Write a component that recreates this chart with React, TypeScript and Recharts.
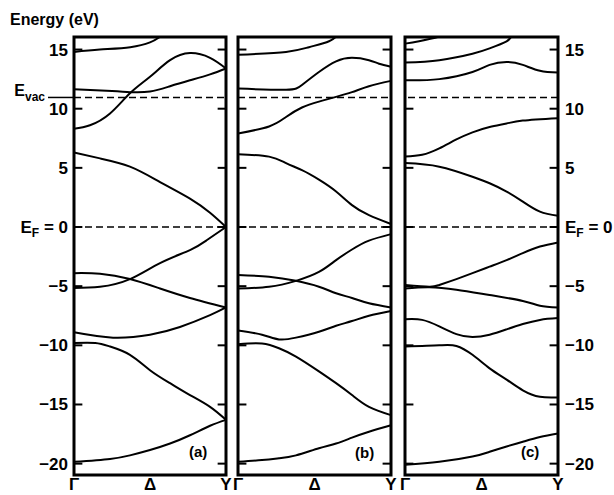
import { LineChart, Line, XAxis, YAxis, ReferenceLine, ReferenceArea } from "recharts";

// energy window of the plot (eV)
const YMIN = -20.96;
const YMAX = 16.06;
const EVAC = 10.95;

const energyTicks = [-20, -15, -10, -5, 0, 5, 10, 15];
const kTicks = [0, 0.5, 1];
const kLabels = ["Γ", "Δ", "Y"];

type Band = [number, number][];

// (a) bands, [k, E] with k from Γ (0) to Y (1)
const bandsA: Band[] = [
  [[0, 14.8], [0.17, 15.0], [0.37, 15.2], [0.5, 15.6], [0.57, 16.1], [0.65, 16.8]],
  [[0, 8.3], [0.105, 8.6], [0.237, 9.6], [0.368, 11.3], [0.5, 12.7], [0.632, 14.1], [0.763, 14.7], [0.895, 14.3], [1, 13.4]],
  [[0, 11.65], [0.25, 11.5], [0.37, 11.4], [0.5, 11.45], [0.632, 11.9], [0.763, 12.4], [0.895, 12.9], [1, 13.4]],
  [[0, 6.3], [0.171, 5.8], [0.368, 5.1], [0.566, 3.8], [0.763, 2.4], [0.895, 1.2], [1, 0]],
  [[0, -5.15], [0.171, -5.05], [0.368, -4.4], [0.566, -3.05], [0.763, -1.95], [0.875, -1.1], [1, 0]],
  [[0, -3.9], [0.171, -3.95], [0.368, -4.4], [0.566, -5.2], [0.763, -6.0], [1, -6.8]],
  [[0, -8.9], [0.257, -9.35], [0.5, -9.1], [0.697, -8.45], [0.895, -7.45], [1, -6.8]],
  [[0, -9.8], [0.14, -9.8], [0.237, -10.1], [0.368, -10.8], [0.5, -12.1], [0.632, -13.2], [0.763, -14.2], [0.895, -15.2], [1, -16.3]],
  [[0, -19.85], [0.237, -19.6], [0.368, -19.3], [0.5, -18.85], [0.632, -18.3], [0.763, -17.6], [0.895, -16.8], [1, -16.3]],
];

// (b)
const bandsB: Band[] = [
  [[0, 14.55], [0.314, 14.8], [0.464, 15.2], [0.595, 15.7], [0.66, 16.3], [0.75, 17]],
  [[0, 11.7], [0.314, 11.6], [0.418, 12.0], [0.529, 13.1], [0.641, 14.0], [0.745, 14.3], [0.856, 14.1], [0.922, 13.8], [1, 13.55]],
  [[0, 7.9], [0.203, 8.5], [0.314, 9.3], [0.418, 10.1], [0.529, 10.6], [0.641, 11.0], [0.745, 11.4], [0.856, 11.9], [1, 12.35]],
  [[0, 6.15], [0.203, 5.95], [0.314, 5.4], [0.418, 4.8], [0.529, 4.0], [0.641, 3.0], [0.745, 1.85], [0.856, 1.0], [1, 0.25]],
  [[0, -5.2], [0.203, -5.05], [0.379, -4.55], [0.529, -3.8], [0.641, -2.8], [0.745, -1.9], [0.856, -1.15], [1, -0.6]],
  [[0, -4.05], [0.203, -4.2], [0.379, -4.55], [0.529, -5.05], [0.641, -5.6], [0.745, -6.0], [0.856, -6.45], [1, -6.8]],
  [[0, -8.75], [0.157, -9.1], [0.268, -9.5], [0.379, -9.35], [0.529, -8.85], [0.641, -8.35], [0.745, -7.95], [0.856, -7.5], [1, -7.1]],
  [[0, -9.9], [0.157, -9.85], [0.268, -10.25], [0.379, -10.95], [0.529, -12.2], [0.641, -13.2], [0.745, -14.2], [0.856, -15.2], [1, -15.9]],
  [[0, -19.85], [0.157, -19.7], [0.268, -19.55], [0.379, -19.3], [0.529, -18.7], [0.641, -18.3], [0.745, -17.8], [0.856, -17.3], [1, -16.75]],
];

// (c)
const bandsC: Band[] = [
  [[0, 15.5], [0.092, 15.7], [0.224, 16.1], [0.3, 16.5]],
  [[0, 13.9], [0.224, 14.1], [0.441, 14.65], [0.553, 15.1], [0.664, 15.7], [0.697, 16.1], [0.78, 16.8]],
  [[0, 12.4], [0.224, 12.5], [0.441, 13.1], [0.553, 13.7], [0.664, 13.95], [0.77, 13.7], [0.882, 13.2], [1, 13.05]],
  [[0, 5.95], [0.112, 6.1], [0.224, 6.65], [0.336, 7.4], [0.441, 8.0], [0.553, 8.45], [0.664, 8.75], [0.77, 9.0], [1, 9.2]],
  [[0, 5.4], [0.224, 5.1], [0.441, 4.25], [0.553, 3.7], [0.664, 3.0], [0.77, 2.15], [0.882, 1.3], [1, 0.95]],
  [[0, -4.9], [0.158, -5.05], [0.224, -4.9], [0.336, -4.4], [0.441, -3.9], [0.553, -3.35], [0.664, -2.8], [0.77, -2.2], [0.882, -1.65], [1, -1.3]],
  [[0, -5.2], [0.158, -5.1], [0.336, -5.3], [0.553, -5.75], [0.77, -6.25], [0.882, -6.65], [1, -6.8]],
  [[0, -7.8], [0.112, -7.85], [0.224, -8.4], [0.336, -9.05], [0.441, -9.3], [0.553, -9.1], [0.664, -8.65], [0.77, -8.2], [0.882, -7.85], [1, -7.7]],
  [[0, -10.1], [0.224, -10.0], [0.336, -10.05], [0.441, -10.8], [0.553, -11.95], [0.664, -12.9], [0.77, -13.8], [0.882, -14.35], [1, -14.4]],
  [[0, -20.1], [0.224, -19.85], [0.441, -19.4], [0.553, -19.0], [0.664, -18.55], [0.77, -18.15], [0.882, -17.75], [1, -17.45]],
];

const FONT = "'Liberation Sans', Arial, sans-serif";
const TICK = 0.055;

const fmt = (v: number) => (v < 0 ? "\u2212" + Math.abs(v) : String(v));

const EnergyLabel = ({ x, y, v, anchor }: { x: number; y: number; v: number; anchor: "start" | "end" }) => {
  if (v === 0) {
    return (
      <text x={x} y={y + 6} textAnchor={anchor} fontSize={17} fontWeight={700} fontFamily={FONT} fill="#000">
        E<tspan fontSize={12} dy={4}>F</tspan>
        <tspan dy={-4}> = 0</tspan>
      </text>
    );
  }
  return (
    <text x={x} y={y + 6} textAnchor={anchor} fontSize={17} fontWeight={700} fontFamily={FONT} fill="#000">
      {fmt(v)}
    </text>
  );
};

const LeftTick = (props: any) => {
  const { x, y, payload } = props;
  const v = payload.value;
  if (v === EVAC) {
    return (
      <g>
        <text x={x - 23} y={y - 1} textAnchor="end" fontSize={16} fontWeight={700} fontFamily={FONT} fill="#000">
          E<tspan fontSize={12} dy={5}>vac</tspan>
        </text>
        <line x1={x - 20} x2={x + 6} y1={y} y2={y} stroke="#000" strokeWidth={1.5} />
      </g>
    );
  }
  return <EnergyLabel x={x} y={y} v={v} anchor="end" />;
};

const RightTick = (props: any) => {
  const { x, y, payload } = props;
  return <EnergyLabel x={x} y={y} v={payload.value} anchor="start" />;
};

const Panel = ({
  bands,
  side,
  width,
  margin,
}: {
  bands: Band[];
  side: "left" | "right" | "none";
  width: number;
  margin: { top: number; right: number; left: number; bottom: number };
}) => (
  <LineChart width={width} height={460} margin={margin}>
    <XAxis
      type="number"
      dataKey="k"
      domain={[0, 1]}
      ticks={kTicks}
      interval={0}
      tickFormatter={(v: number) => kLabels[kTicks.indexOf(v)]}
      axisLine={false}
      tickLine={false}
      tickSize={0}
      tickMargin={3}
      height={20}
      tick={{ fill: "#000", fontSize: 17, fontWeight: 700, fontFamily: FONT }}
    />
    <YAxis
      type="number"
      domain={[YMIN, YMAX]}
      allowDataOverflow
      hide={side === "none"}
      orientation={side === "right" ? "right" : "left"}
      width={side === "left" ? 74 : side === "right" ? 56 : 0}
      ticks={side === "left" ? [...energyTicks, EVAC] : energyTicks}
      interval={0}
      axisLine={false}
      tickLine={false}
      tickSize={0}
      tickMargin={side === "left" ? 6 : 7}
      tick={side === "left" ? LeftTick : RightTick}
    />
    <ReferenceLine y={0} stroke="#000" strokeWidth={1.5} strokeDasharray="7 4" />
    <ReferenceLine y={EVAC} stroke="#000" strokeWidth={1.5} strokeDasharray="7 4" />
    {energyTicks.map((v) => (
      <ReferenceLine
        key={"l" + v}
        segment={[{ x: 0, y: v }, { x: TICK, y: v }]}
        stroke="#000"
        strokeWidth={2}
      />
    ))}
    {energyTicks.map((v) => (
      <ReferenceLine
        key={"r" + v}
        segment={[{ x: 1 - TICK, y: v }, { x: 1, y: v }]}
        stroke="#000"
        strokeWidth={2}
      />
    ))}
    {bands.map((b, i) => (
      <Line
        key={i}
        data={b.map(([k, e]) => ({ k, e }))}
        dataKey="e"
        type="natural"
        stroke="#000"
        strokeWidth={2}
        dot={false}
        isAnimationActive={false}
      />
    ))}
    <ReferenceArea x1={0} x2={1} y1={YMIN} y2={YMAX} fill="none" fillOpacity={0} stroke="#000" strokeWidth={3} />
  </LineChart>
);

const textStyle = { position: "absolute" as const, fontFamily: FONT, color: "#000", fontWeight: 700 };

export default function App() {
  return (
    <div style={{ position: "absolute", left: 0, top: 0, width: 614, height: 495, background: "#fff", overflow: "hidden" }}>
      <div style={{ ...textStyle, left: 10, top: 11, fontSize: 16 }}>Energy (eV)</div>
      <div style={{ position: "absolute", left: 0, top: 35 }}>
        <Panel bands={bandsA} side="left" width={236} margin={{ top: 2, right: 10, left: 0, bottom: 0 }} />
      </div>
      <div style={{ position: "absolute", left: 228, top: 35 }}>
        <Panel bands={bandsB} side="none" width={173} margin={{ top: 2, right: 10, left: 10, bottom: 0 }} />
      </div>
      <div style={{ position: "absolute", left: 395, top: 35 }}>
        <Panel bands={bandsC} side="right" width={219} margin={{ top: 2, right: 0, left: 10, bottom: 0 }} />
      </div>
      <div style={{ ...textStyle, left: 189, top: 443, fontSize: 15 }}>(a)</div>
      <div style={{ ...textStyle, left: 355, top: 444, fontSize: 15 }}>(b)</div>
      <div style={{ ...textStyle, left: 521, top: 443, fontSize: 15 }}>(c)</div>
    </div>
  );
}
